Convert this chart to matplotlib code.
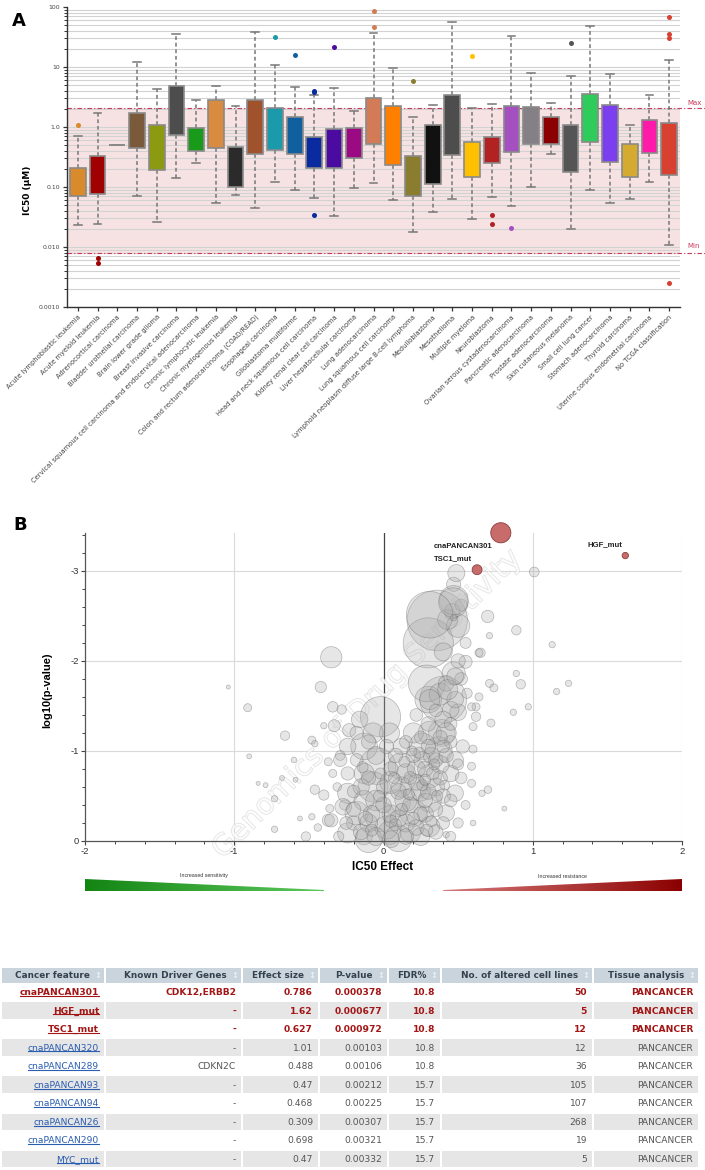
import numpy as np
import matplotlib
matplotlib.use('Agg')
import matplotlib.pyplot as plt
import matplotlib.patheffects as pe
from matplotlib.patches import Rectangle, Polygon
from matplotlib.colors import LinearSegmentedColormap
from matplotlib.ticker import MultipleLocator, NullFormatter

# ---------------- panel A : IC50 per cancer type ----------------
cancer_types = [
    'Acute lymphoblastic leukemia', 'Acute myeloid leukemia', 'Adrenocortical carcinoma',
    'Bladder urothelial carcinoma', 'Brain lower grade glioma', 'Breast invasive carcinoma',
    'Cervical squamous cell carcinoma and endocervical adenocarcinoma',
    'Chronic lymphocytic leukemia', 'Chronic myelogenous leukemia',
    'Colon and rectum adenocarcinoma (COAD/READ)', 'Esophageal carcinoma',
    'Glioblastoma multiforme', 'Head and neck squamous cell carcinoma',
    'Kidney renal clear cell carcinoma', 'Liver hepatocellular carcinoma',
    'Lung adenocarcinoma', 'Lung squamous cell carcinoma',
    'Lymphoid neoplasm diffuse large B-cell lymphoma', 'Medulloblastoma', 'Mesothelioma',
    'Multiple myeloma', 'Neuroblastoma', 'Ovarian serous cystadenocarcinoma',
    'Pancreatic adenocarcinoma', 'Prostate adenocarcinoma', 'Skin cutaneous melanoma',
    'Small cell lung cancer', 'Stomach adenocarcinoma', 'Thyroid carcinoma',
    'Uterine corpus endometrial carcinoma', 'No TCGA classification',
]
box_colors = [
    '#D98A2B', '#A00000', '#8A8A8A', '#7A5A3A', '#8C9A12', '#4D4D4D', '#1A9A1A',
    '#D98B3F', '#2B2B2B', '#A0522D', '#1A9AAA', '#1060A0', '#0A2AA0', '#4B0BA0',
    '#9B0A82', '#D27B56', '#FF8000', '#8B7D30', '#111111', '#4D4D4D', '#FFC000',
    '#B22222', '#A550C0', '#858085', '#8B0000', '#555555', '#2ECC5A', '#7B3FF0',
    '#D4AA30', '#FF1AAA', '#D84030',
]
ic50_low = [0.023, 0.0246, 0.51, 0.072, 0.026, 0.142, 0.25, 0.055, 0.073, 0.044, 0.122,
            0.09, 0.065, 0.033, 0.097, 0.115, 0.06, 0.0177, 0.039, 0.064, 0.029, 0.069,
            0.048, 0.10, 0.35, 0.0203, 0.088, 0.055, 0.063, 0.122, 0.011]
ic50_q1 = [0.070, 0.075, 0.51, 0.45, 0.19, 0.74, 0.395, 0.45, 0.10, 0.36, 0.41, 0.35,
           0.206, 0.206, 0.30, 0.52, 0.23, 0.07, 0.113, 0.34, 0.144, 0.25, 0.38, 0.53,
           0.53, 0.175, 0.56, 0.266, 0.148, 0.375, 0.158]
ic50_med = [0.148, 0.193, 0.51, 0.99, 0.395, 1.62, 0.50, 0.85, 0.26, 1.03, 0.85, 0.48,
            0.455, 0.415, 0.69, 1.14, 0.75, 0.158, 0.41, 1.89, 0.243, 0.50, 0.87, 0.55,
            0.81, 0.38, 1.01, 1.09, 0.395, 0.95, 0.415]
ic50_q3 = [0.21, 0.33, 0.51, 1.71, 1.07, 4.8, 0.96, 2.85, 0.466, 2.85, 2.1, 1.47, 0.67,
           0.92, 0.96, 3.1, 2.27, 0.33, 1.08, 3.36, 0.56, 0.69, 2.23, 2.12, 1.45, 1.07,
           3.5, 2.36, 0.53, 1.3, 1.18]
ic50_high = [0.70, 1.71, 0.51, 12.3, 4.28, 35.5, 2.77, 4.8, 2.27, 38, 11, 4.7, 3.4, 4.4,
             1.84, 37, 9.8, 1.49, 2.3, 57, 2.07, 2.38, 32.5, 8.0, 2.48, 6.95, 48, 7.6,
             1.07, 3.45, 13]
ic50_outliers = [[1.07], [0.0066, 0.0054], [], [], [], [], [], [], [], [], [32], [16],
                 [3.9, 4.0, 0.034], [21.7], [], [85, 46], [], [5.75], [], [], [15.5],
                 [0.034, 0.024], [0.021], [], [], [24.8], [], [], [], [],
                 [67, 35, 30.5, 0.0025]]
max_conc = 2.07
min_conc = 0.0079

# ---------------- panel B : volcano (effect, log10 p, n cell lines) ----------------
grey_effect = [
    -1.04, -0.91, -0.90, -0.35, -0.42, -0.66, -0.73, -0.79, -0.84, -0.73, -0.56, -0.52,
    -0.48, -0.46, -0.40, -0.34, -0.28, -0.33, -0.23, -0.37, -0.34, -0.40, -0.36, -0.37,
    -0.46, -0.48, -0.59, -0.68, -0.60, -0.44, -0.31, -0.29, -0.26,
    0.89, 0.71, 1.13, 0.65, 0.89, 0.92, 0.71, 0.74, 1.24, 1.16, 0.87, 0.97, 0.72, 0.60,
    0.62, 0.62, 0.64, 0.59, 0.60, 0.59, 0.70, 0.66, 0.81, 0.42, 0.55, 0.64,
    0.36, 0.30, 0.50, 0.43, 0.46, 0.40, 0.30, 0.47, 0.50, 0.39, 0.29, 0.38, 0.42, 0.52,
    0.50, 0.55, 0.40, 0.47, 0.52,
    -0.02, -0.04, -0.07, -0.13, 0.12, 0.26, 0.37, 0.31, 0.31, 0.20, 0.42, 0.20, 0.31,
    0.09, 0.20, 0.31, -0.02, -0.18, -0.24, -0.13, 0.04, 0.18, 0.31, 0.42, 0.48, 0.45,
    0.48, 0.53, -0.13, -0.24, -0.27, -0.35, -0.13, 0.12, 0.26, 0.12, 0.04, -0.07, -0.16,
    -0.18, -0.24, -0.29, -0.24, 0.45, 0.40, 0.48, 0.43, 0.48, 0.56, 0.59, -0.10, 0.10,
    0.02, 0.25, -0.05, 0.15, 0.25, 0.35, 0.38, 0.15, 0.05, 0.22, 0.32, 0.20, 0.40, 0.05,
    -0.10, 0.15, 0.28, 0.35, -0.20, -0.15, -0.05, 0.08, 0.30, 0.22, 0.35, 0.45, 0.52,
    0.55, 0.50, 0.45, -0.30, 0.60,
    -0.15, -0.05, 0.05, 0.15, 0.22, -0.20, -0.08, 0.00, 0.10, 0.18, 0.28, 0.35, 0.22,
    0.30, 0.38, 0.28, 0.35, 0.42, 0.30, 0.38, 0.25, 0.45, 0.10, 0.00, -0.10, 0.05, -0.20,
    -0.25, -0.12, 0.40, 0.45, 0.50, 0.40, 0.33, 0.18, -0.18, -0.10, 0.15, 0.02, 0.25,
    -0.08, 0.08, 0.20, 0.32, 0.12, 0.26, 0.36, 0.05, 0.17, -0.03, 0.28, 0.41, 0.24,
    0.14, -0.14, 0.34, 0.07, 0.19, 0.29, -0.02,
]
grey_logp = [
    -1.71, -1.48, -0.94, -2.04, -1.71, -1.17, -0.47, -0.62, -0.64, -0.13, -0.25, -0.05,
    -1.12, -1.08, -1.28, -1.49, -1.46, -1.28, -1.23, -0.88, -0.75, -0.51, -0.36, -0.23,
    -0.57, -0.27, -0.68, -0.70, -0.90, -0.15, -0.60, -0.95, -0.40,
    -2.34, -2.28, -2.18, -2.09, -1.86, -1.74, -1.75, -1.70, -1.75, -1.66, -1.43, -1.49,
    -1.31, -1.27, -1.38, -1.49, -1.60, -0.83, -1.02, -0.64, -0.57, -0.53, -0.36, -0.07,
    -1.99, -2.09,
    -2.45, -2.20, -2.39, -2.46, -2.55, -1.57, -1.57, -1.86, -1.43, -1.20, -1.75, -1.63,
    -1.75, -1.80, -2.00, -2.20, -2.10, -2.85, -2.62,
    -1.38, -0.83, -0.60, -1.05, -0.83, -1.05, -1.01, -1.57, -1.20, -1.20, -1.20, -0.60,
    -0.72, -0.42, -0.31, -0.45, -0.27, -0.31, -0.09, -0.05, -0.09, -0.09, -0.16, -0.31,
    -0.53, -0.75, -0.90, -1.05, -0.75, -0.53, -0.38, -0.23, -0.45, -0.60, -0.90, -1.05,
    -1.20, -1.20, -1.35, -1.20, -1.05, -0.90, -0.75, -1.46, -1.35, -1.57, -1.68, -1.83,
    -1.64, -1.49, -0.02, -0.03, -0.15, -0.05, -0.45, -0.45, -0.55, -0.60, -0.85, -0.75,
    -0.65, -0.80, -0.95, -0.95, -0.50, -0.30, -0.20, -0.20, -0.30, -0.10, -0.20, -0.60,
    -0.95, -0.95, -1.30, -1.40, -1.45, -1.10, -0.70, -0.40, -0.20, -0.05, -0.05, -0.20,
    -0.10, -0.05, -0.02, -0.05, -0.15, -0.35, -0.30, -0.40, -0.25, -0.40, -0.45, -0.35,
    -0.65, -0.55, -0.70, -0.80, -0.90, -0.95, -1.05, -1.15, -1.15, -1.30, -0.55, -0.60,
    -0.70, -0.80, -0.55, -0.20, -0.25, -0.20, -0.45, -0.85, -1.05, -0.75, -0.70, -0.90,
    -1.10, -1.10, -1.05, -0.30,
    -0.12, -0.18, -0.25, -0.22, -0.35, -0.62, -0.50, -0.22, -0.52, -0.50, -0.68, -0.62,
    -0.98, -0.88, -0.82, -0.85, -0.70, -1.00, -0.12, -0.75,
]
grey_n = [
    2, 8, 3, 56, 16, 11, 5, 3, 2, 5, 3, 11, 8, 5, 5, 14, 11, 18, 22, 8, 8, 13, 8, 18, 11,
    5, 3, 3, 4, 7, 9, 12, 13,
    11, 5, 5, 11, 5, 11, 8, 8, 5, 5, 5, 5, 8, 8, 11, 8, 8, 8, 8, 8, 7, 5, 3, 5, 21, 8,
    450, 310, 67, 50, 30, 270, 88, 67, 34, 88, 167, 60, 30, 20, 25, 15, 40, 25, 18,
    200, 166, 112, 88, 88, 88, 88, 50, 67, 50, 50, 88, 67, 88, 88, 67, 112, 67, 50, 34,
    67, 50, 50, 34, 34, 34, 34, 22, 50, 50, 34, 22, 50, 50, 34, 34, 50, 50, 34, 22, 34,
    22, 22, 34, 34, 34, 50, 34, 13, 8, 88, 88, 66, 40, 53, 60, 46, 40, 40, 46, 60, 40,
    33, 26, 26, 40, 40, 40, 33, 26, 26, 33, 40, 26, 26, 20, 20, 20, 17, 10, 13, 13, 13, 4,
    30, 40, 35, 30, 30, 25, 35, 30, 35, 30, 25, 25, 30, 30, 25, 30, 25, 25, 25, 25, 20,
    20, 30, 25, 25, 25, 20, 20, 25, 20, 20, 15, 20, 20, 20, 20, 25, 20, 25, 25,
    18, 18, 18, 15, 18, 15, 15, 18, 15, 15, 15, 12, 15, 15, 15, 15, 15, 12, 18, 15,
]

# ---------------- table ----------------
headers = ['Cancer feature', 'Known Driver Genes', 'Effect size', 'P-value', 'FDR%',
           'No. of altered cell lines', 'Tissue analysis']
features = ['cnaPANCAN301', 'HGF_mut', 'TSC1_mut', 'cnaPANCAN320', 'cnaPANCAN289',
            'cnaPANCAN93', 'cnaPANCAN94', 'cnaPANCAN26', 'cnaPANCAN290', 'MYC_mut']
driver_genes = ['CDK12,ERBB2', '-', '-', '-', 'CDKN2C', '-', '-', '-', '-', '-']
effect_size = [0.786, 1.62, 0.627, 1.01, 0.488, 0.47, 0.468, 0.309, 0.698, 0.47]
p_values = [0.000378, 0.000677, 0.000972, 0.00103, 0.00106, 0.00212, 0.00225, 0.00307,
            0.00321, 0.00332]
fdr = [10.8, 10.8, 10.8, 10.8, 10.8, 15.7, 15.7, 15.7, 15.7, 15.7]
n_altered = [50, 5, 12, 12, 36, 105, 107, 268, 19, 5]
tissue = ['PANCANCER'] * 10
n_highlight = 3

W, H = 705, 1170
fig = plt.figure(figsize=(W / 100, H / 100), dpi=100)


def px_axes(l, t, r, b):
    return fig.add_axes([l / W, 1 - b / H, (r - l) / W, (b - t) / H])


# ================= panel A =================
axA = px_axes(67, 7, 680, 307)
axA.set_facecolor('none')
axA.set_yscale('log')
axA.set_ylim(0.001, 100)
axA.set_xlim(-0.55, len(cancer_types) - 0.45)
axA.axhspan(min_conc, max_conc, color='#F6E2E2', zorder=0, lw=0)
for dec in [0.001, 0.01, 0.1, 1, 10]:
    for m in range(1, 10):
        axA.axhline(dec * m, color='#D2D2D2', lw=0.8, zorder=0.5)
for v in (max_conc, min_conc):
    axA.axhline(v, xmax=1.04, color='#C8385A', lw=0.8, ls=(0, (4, 2, 1, 2)),
                clip_on=False, zorder=1)
axA.text(1.012, max_conc * 1.2, 'Max', transform=axA.get_yaxis_transform(),
         fontsize=5, color='#C8385A', va='center', ha='left')
axA.text(1.012, min_conc * 1.3, 'Min', transform=axA.get_yaxis_transform(),
         fontsize=5, color='#C8385A', va='center', ha='left')

stats = []
for lo, a, m, b, hi, fl in zip(ic50_low, ic50_q1, ic50_med, ic50_q3, ic50_high, ic50_outliers):
    stats.append(dict(whislo=lo, q1=a, med=m, q3=b, whishi=hi, fliers=fl))
bp = axA.bxp(stats, positions=np.arange(len(stats)), widths=0.8, capwidths=0.4,
             patch_artist=True, manage_ticks=False, showfliers=True,
             boxprops=dict(edgecolor='#8A8A8A', linewidth=1.2),
             whiskerprops=dict(color='#777777', linestyle=(0, (2.5, 1.8)), linewidth=1.1),
             capprops=dict(color='#777777', linewidth=1.1),
             medianprops=dict(color='#8A8A8A', linewidth=1.2),
             flierprops=dict(marker='o', markersize=3.6, markeredgewidth=0))
for patch, c in zip(bp['boxes'], box_colors):
    patch.set_facecolor(c)
    patch.set_zorder(3)
for fl, c in zip(bp['fliers'], box_colors):
    fl.set_markerfacecolor(c)

axA.set_xticks(np.arange(len(cancer_types)))
axA.set_xticklabels(cancer_types, rotation=45, ha='right', rotation_mode='anchor',
                    fontsize=4.9, color='#444444')
axA.set_yticks([0.001, 0.01, 0.1, 1, 10, 100])
axA.set_yticklabels(['0.0010', '0.010', '0.10', '1.0', '10', '100'], fontsize=4.4,
                    color='#444444')
axA.yaxis.set_minor_formatter(NullFormatter())
axA.tick_params(axis='x', length=3, width=0.9, color='#333333', pad=2)
axA.tick_params(axis='y', which='major', length=3, width=0.9, color='#333333', pad=2)
axA.tick_params(axis='y', which='minor', length=2, width=0.7, color='#333333')
for s in ('top', 'right'):
    axA.spines[s].set_visible(False)
for s in ('left', 'bottom'):
    axA.spines[s].set_color('#333333')
    axA.spines[s].set_linewidth(1.0)
fig.text(28 / W, 1 - 190 / H, 'IC50 (μM)', rotation=90, fontsize=6.5, fontweight='bold',
         ha='center', va='center')
fig.text(19 / W, 1 - 21 / H, 'A', fontsize=13, fontweight='bold', ha='center', va='center')

# ================= panel B =================
axB = px_axes(85, 533, 682, 841)
axB.set_facecolor('none')
axB.set_xlim(-2, 2)
axB.set_ylim(0, -3.42)
for x in (-1, 1, 2):
    axB.axvline(x, color='#DADADA', lw=0.8, zorder=0)
for y in (-1, -2, -3):
    axB.axhline(y, color='#DADADA', lw=0.8, zorder=0)
axB.axvline(0, color='#444444', lw=0.9, zorder=1)

size_k = 4.2
grey_face = (0.68, 0.68, 0.68, 0.30)
grey_edge = (0.40, 0.40, 0.40, 0.45)
axB.scatter(grey_effect, grey_logp, s=[size_k * n for n in grey_n],
            facecolor=grey_face, edgecolor=grey_edge, linewidth=0.5, clip_on=False, zorder=2)
tab_logp = np.log10(p_values)
axB.scatter(effect_size[n_highlight:], tab_logp[n_highlight:],
            s=[size_k * n for n in n_altered[n_highlight:]],
            facecolor=grey_face, edgecolor=grey_edge, linewidth=0.5, clip_on=False, zorder=2)
axB.scatter(effect_size[:n_highlight], tab_logp[:n_highlight],
            s=[size_k * n for n in n_altered[:n_highlight]],
            facecolor='#C76B6B', edgecolor='#8C3E3E', linewidth=0.6, clip_on=False, zorder=4)
label_offsets = [(-48, -10), (-27, 8), (-31, 8)]
for name, x, y, off in zip(features[:n_highlight], effect_size, tab_logp, label_offsets):
    axB.annotate(name, (x, y), xytext=off, textcoords='offset points', fontsize=5.6,
                 fontweight='bold', family='Liberation Sans', ha='left', va='center',
                 color='#222222', zorder=5, annotation_clip=False)

axB.text(-0.11, -1.52, 'Genomics of Drug Sensitivity', rotation=45, fontsize=21,
         color='white', alpha=0.6, ha='center', va='center', zorder=1.5,
         path_effects=[pe.withStroke(linewidth=0.9, foreground='#D0D0D0')])

axB.set_xticks([-2, -1, 0, 1, 2])
axB.set_xticklabels(['-2', '-1', '0', '1', '2'])
axB.set_yticks([0, -1, -2, -3])
axB.set_yticklabels(['0', '-1', '-2', '-3'])
axB.xaxis.set_minor_locator(MultipleLocator(0.2))
axB.yaxis.set_minor_locator(MultipleLocator(0.2))
for lab in axB.get_xticklabels() + axB.get_yticklabels():
    lab.set_family('Liberation Sans')
    lab.set_fontsize(6.8)
    lab.set_color('#333333')
axB.tick_params(which='major', length=3, width=0.8, color='#444444', pad=1.5)
axB.tick_params(which='minor', length=2, width=0.7, color='#444444')
for s in ('top', 'right'):
    axB.spines[s].set_visible(False)
for s in ('left', 'bottom'):
    axB.spines[s].set_color('#555555')
    axB.spines[s].set_linewidth(0.9)
fig.text(383 / W, 1 - 867 / H, 'IC50 Effect', fontsize=8.5, fontweight='bold',
         family='Liberation Sans', ha='center', va='center')
fig.text(47 / W, 1 - 690 / H, 'log10(p-value)', rotation=90, fontsize=8,
         fontweight='bold', family='Liberation Sans', ha='center', va='center')
fig.text(20 / W, 1 - 525 / H, 'B', fontsize=13, fontweight='bold', ha='center', va='center')

# sensitivity / resistance wedges
grad = np.linspace(0, 1, 256).reshape(1, -1)
wedges = [((-2, -0.4), ['#138513', '#5CC85C'], [(0, 1), (0, 0), (1, 0), (1, 0.08)],
           'Increased sensitivity'),
          ((0.4, 2), ['#D77A7A', '#8B0000'], [(0, 0), (1, 0), (1, 1), (0, 0.08)],
           'Increased resistance')]
for (x0, x1), cols, verts, txt in wedges:
    l = axB.transData.transform((x0, 0))[0]
    r = axB.transData.transform((x1, 0))[0]
    axw = px_axes(l, 879, r, 891)
    axw.axis('off')
    axw.set_xlim(0, 1)
    axw.set_ylim(0, 1)
    cmap = LinearSegmentedColormap.from_list('w', cols)
    im = axw.imshow(grad, cmap=cmap, extent=[0, 1, 0, 1], aspect='auto')
    poly = Polygon(verts, closed=True, transform=axw.transData, facecolor='none',
                   edgecolor='none')
    axw.add_patch(poly)
    im.set_clip_path(poly)
    fig.text((l + r) / 2 / W, 1 - 876 / H, txt, fontsize=3.8, color='#333333',
             family='Liberation Sans', ha='center', va='center')

# ================= table =================
axT = fig.add_axes([0, 0, 1, 1])
axT.set_xlim(0, W)
axT.set_ylim(H, 0)
axT.axis('off')
axT.set_zorder(-1)

col_left = [2, 106, 243, 320, 389, 442, 594]
col_right = [104, 241, 318, 387, 440, 592, 698]
head_top, head_h = 968, 14.5
row0, row_step, row_h = 992, 18.55, 16.6

for l, r, h in zip(col_left, col_right, headers):
    axT.add_patch(Rectangle((l, head_top), r - l, head_h, facecolor='#CAD4DC', lw=0))
    axT.text(r - 14, head_top + head_h / 2 + 0.5, h, fontsize=6.4, fontweight='bold',
             color='#34424F', ha='right', va='center')
    axT.text(r - 6, head_top + head_h / 2 + 0.5, '↕', fontsize=6, color='#F4F6F8',
             ha='center', va='center')

feat_texts = []
for i in range(len(features)):
    yc = row0 + row_step * i
    hi = i < n_highlight
    if i % 2 == 1:
        for l, r in zip(col_left, col_right):
            axT.add_patch(Rectangle((l, yc - row_h / 2), r - l, row_h, facecolor='#E6E6E6',
                                    lw=0))
    cells = [features[i], driver_genes[i], f'{effect_size[i]:g}', f'{p_values[i]:g}',
             f'{fdr[i]:g}', str(n_altered[i]), tissue[i]]
    for j, (r, txt) in enumerate(zip(col_right, cells)):
        if hi:
            color, weight = '#A31515', 'bold'
        elif j == 0:
            color, weight = '#2A5DB0', 'normal'
        else:
            color, weight = '#555555', 'normal'
        t = axT.text(r - 5, yc + 0.5, txt, fontsize=6.6, fontweight=weight, color=color,
                     ha='right', va='center')
        if j == 0:
            feat_texts.append((t, color))

fig.canvas.draw()
renderer = fig.canvas.get_renderer()
inv = axT.transData.inverted()
for t, color in feat_texts:
    bb = t.get_window_extent(renderer)
    (x0, y0), (x1, _) = inv.transform([[bb.x0, bb.y0 + 1.2], [bb.x1, bb.y0 + 1.2]])
    axT.plot([x0, x1], [y0, y0], color=color, lw=0.8)

fig.savefig('out.png', dpi=100, facecolor='white')
